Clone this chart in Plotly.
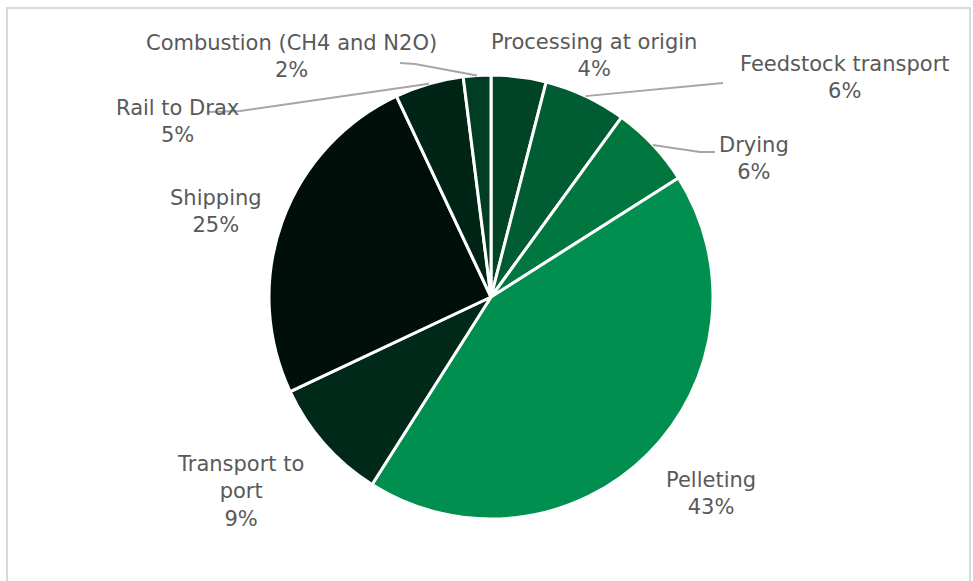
import math
import plotly.graph_objects as go

# ---- data ----
categories = ["Processing at origin", "Feedstock transport", "Drying", "Pelleting",
              "Transport to port", "Shipping", "Rail to Drax", "Combustion (CH4 and N2O)"]
values = [4, 6, 6, 43, 9, 25, 5, 2]
label_text = ["Processing at origin<br>4%", "Feedstock transport<br>6%", "Drying<br>6%",
              "Pelleting<br>43%", "Transport to<br>port<br>9%", "Shipping<br>25%",
              "Rail to Drax<br>5%", "Combustion (CH4 and N2O)<br>2%"]
colors = ["#004425", "#005c33", "#00773f", "#008f4f", "#00291a", "#000f09", "#002516", "#003d22"]

# ---- layout constants (pixels) ----
W, H = 973, 581
CX, CY, R = 491, 297, 222
label_pos = [(594, 55), (845, 78), (754, 159), (711, 494), (240, 491), (216, 211), (177, 121), (291, 57)]
# leader elbows (None => no leader)
leader_elbow = [None, [(723, 83)], [(700, 152), (715, 152)], None, None, None,
                [(240, 111), (207, 112)], [(415, 64), (400, 63)]]

def px(x):
    return x / W
def py(y):
    return 1 - y / H

fig = go.Figure(go.Pie(
    labels=categories, values=values, sort=False, direction="clockwise", rotation=0,
    marker=dict(colors=colors, line=dict(color="white", width=3)),
    textinfo="none", hoverinfo="label+percent", showlegend=False,
    domain=dict(x=[px(CX - R), px(CX + R)], y=[py(CY + R), py(CY - R)]),
))

total = sum(values)
cum = 0
shapes = []
annotations = []
for i, v in enumerate(values):
    mid = (cum + v / 2) / total * 2 * math.pi
    cum += v
    sx = CX + R * math.sin(mid)
    sy = CY - R * math.cos(mid)
    if leader_elbow[i]:
        pts = [(sx, sy)] + leader_elbow[i]
        path = "M " + " L ".join(f"{px(x)},{py(y)}" for x, y in pts)
        shapes.append(dict(type="path", xref="paper", yref="paper", path=path,
                           line=dict(color="#a6a6a6", width=2)))
    lx, ly = label_pos[i]
    annotations.append(dict(x=px(lx), y=py(ly), xref="paper", yref="paper",
                            text=label_text[i], showarrow=False,
                            font=dict(family="DejaVu Sans", size=21, color="#595959"),
                            xanchor="center", yanchor="middle", align="center"))

# outer frame
shapes.append(dict(type="rect", xref="paper", yref="paper",
                   x0=px(7), x1=px(970), y0=py(600), y1=py(8),
                   line=dict(color="#d9d9d9", width=2), layer="below"))

fig.update_layout(width=W, height=H, margin=dict(l=0, r=0, t=0, b=0),
                  paper_bgcolor="white", plot_bgcolor="white",
                  shapes=shapes, annotations=annotations)
fig.write_html("out.html")
